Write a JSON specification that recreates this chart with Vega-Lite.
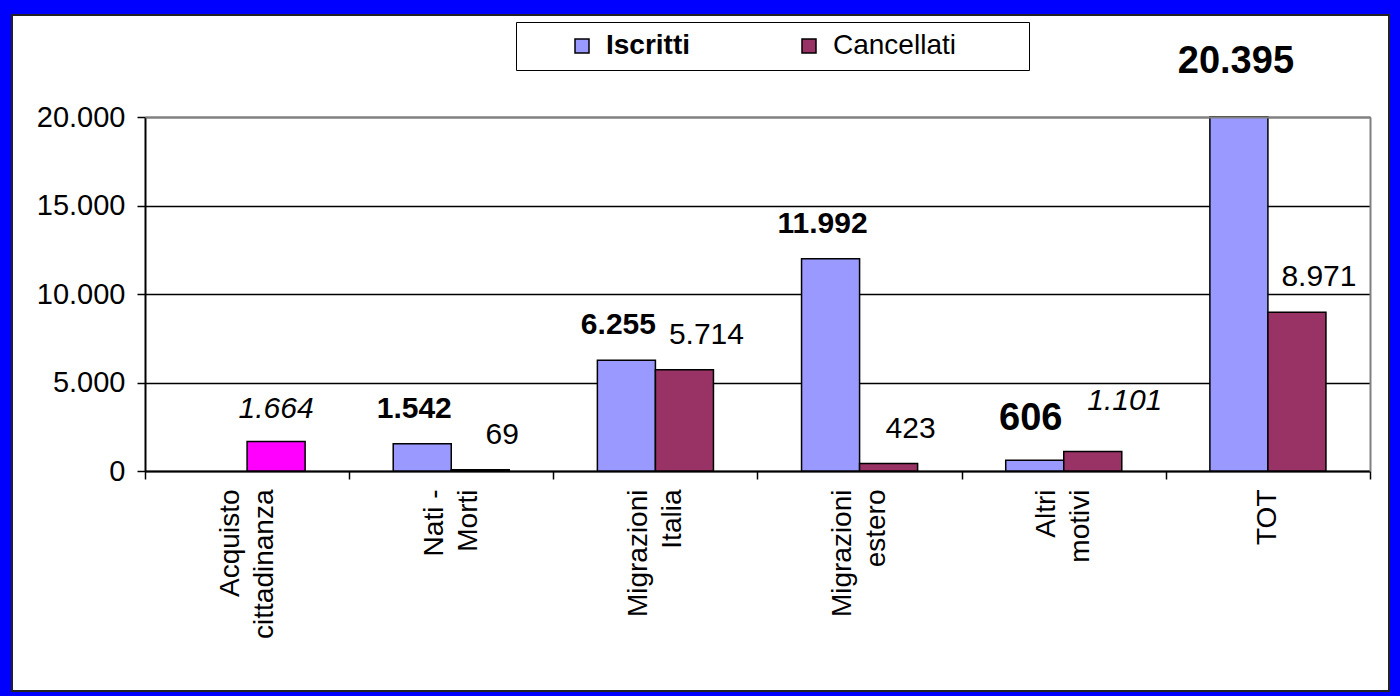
{
  "$schema": "https://vega.github.io/schema/vega-lite/v6.json",
  "width": 1377,
  "height": 676,
  "autosize": {"type": "none"},
  "padding": {"left": 12, "top": 15, "right": 11, "bottom": 5},
  "background": "#0000FF",
  "config": {
    "view": {"fill": "white", "stroke": "#222222", "strokeWidth": 2},
    "font": "Liberation Sans",
    "locale": {"number": {"decimal": ",", "thousands": ".", "grouping": [3], "currency": ["", " €"]}}
  },
  "data": {"values": [
    {"categoria": "Acquisto cittadinanza", "serie": "Cancellati", "valore": 1664},
    {"categoria": "Nati - Morti", "serie": "Iscritti", "valore": 1542},
    {"categoria": "Nati - Morti", "serie": "Cancellati", "valore": 69},
    {"categoria": "Migrazioni Italia", "serie": "Iscritti", "valore": 6255},
    {"categoria": "Migrazioni Italia", "serie": "Cancellati", "valore": 5714},
    {"categoria": "Migrazioni estero", "serie": "Iscritti", "valore": 11992},
    {"categoria": "Migrazioni estero", "serie": "Cancellati", "valore": 423},
    {"categoria": "Altri motivi", "serie": "Iscritti", "valore": 606},
    {"categoria": "Altri motivi", "serie": "Cancellati", "valore": 1101},
    {"categoria": "TOT", "serie": "Iscritti", "valore": 20395},
    {"categoria": "TOT", "serie": "Cancellati", "valore": 8971}
  ]},
  "resolve": {"axis": {"x": "independent", "y": "independent"}},
  "layer": [
    {
      "mark": {"type": "bar", "stroke": "black", "strokeWidth": 1.5},
      "encoding": {
        "x": {
          "field": "categoria", "type": "nominal",
          "sort": ["Acquisto cittadinanza", "Nati - Morti", "Migrazioni Italia", "Migrazioni estero", "Altri motivi", "TOT"],
          "scale": {"range": [133, 1358], "paddingInner": 0, "paddingOuter": 0},
          "axis": {
            "orient": "bottom", "offset": -220, "title": null, "grid": false,
            "domainColor": "black", "domainWidth": 2,
            "tickColor": "black", "tickWidth": 1.5, "tickSize": 8, "tickBand": "extent",
            "labelAngle": -90, "labelAlign": "right", "labelBaseline": "middle",
            "labelFont": "Liberation Sans", "labelFontSize": 28, "labelColor": "black",
            "labelPadding": 10, "labelLineHeight": 34, "labelLimit": 400,
            "labelOffset": {"expr": "datum.value === 'TOT' ? 0 : -17"},
            "labelExpr": "datum.value == null ? '' : (datum.value === 'Nati - Morti' ? ['Nati -', 'Morti'] : split(datum.value, ' '))"
          }
        },
        "xOffset": {
          "field": "serie", "type": "nominal", "sort": ["Iscritti", "Cancellati"],
          "scale": {"domain": ["Iscritti", "Cancellati"], "paddingOuter": 0.759, "paddingInner": 0}
        },
        "y": {
          "field": "valore", "type": "quantitative",
          "scale": {"domain": [0, 20000], "range": [456, 102], "nice": false, "clamp": true},
          "axis": {
            "orient": "left", "offset": -133, "title": null,
            "values": [0, 5000, 10000, 15000, 20000], "format": ",d",
            "grid": true, "gridColor": "black", "gridWidth": 1.5,
            "domainColor": "black", "domainWidth": 2,
            "tickColor": "black", "tickWidth": 1.5, "tickSize": 8,
            "labelFont": "Liberation Sans", "labelFontSize": 29, "labelColor": "black", "labelPadding": 12
          }
        },
        "color": {
          "condition": {"test": "datum.categoria === 'Acquisto cittadinanza'", "value": "#FF00FF"},
          "field": "serie", "type": "nominal", "sort": ["Iscritti", "Cancellati"],
          "scale": {"domain": ["Iscritti", "Cancellati"], "range": ["#9999FF", "#993366"]},
          "legend": {
            "orient": "none", "legendX": 504, "legendY": 7, "direction": "horizontal",
            "title": "\u2800\u2800", "titleOrient": "left", "titleFontSize": 28, "titlePadding": 0, "titleColor": "white",
            "fillColor": "white", "strokeColor": "black", "padding": 10,
            "symbolType": "square", "symbolSize": 196, "symbolStrokeColor": "black", "symbolStrokeWidth": 1.5,
            "labelFont": "Liberation Sans", "labelFontSize": 28, "labelColor": "black", "labelOffset": 10,
            "columnPadding": 104, "labelLimit": 500,
            "labelFontWeight": {"expr": "datum.label === 'Iscritti' ? 'bold' : 'normal'"},
            "labelExpr": "datum.label === 'Cancellati' ? 'Cancellati\u2800\u2800\u2800' : datum.label"
          }
        }
      }
    },
    {
      "transform": [{"filter": "datum.serie === 'Iscritti' && (datum.categoria === 'Nati - Morti' || datum.categoria === 'Migrazioni Italia' || datum.categoria === 'Migrazioni estero')"}],
      "mark": {"type": "text", "font": "Liberation Sans", "fontSize": 30, "fontWeight": "bold", "align": "center", "baseline": "middle", "dx": -8, "dy": -35, "color": "black"},
      "encoding": {
        "x": {"field": "categoria", "type": "nominal", "sort": ["Acquisto cittadinanza", "Nati - Morti", "Migrazioni Italia", "Migrazioni estero", "Altri motivi", "TOT"],
          "axis": {"orient": "top", "offset": -102, "title": null, "labels": false, "ticks": false, "grid": false, "domainColor": "#808080", "domainWidth": 2, "zindex": 1}},
        "xOffset": {"field": "serie", "type": "nominal", "sort": ["Iscritti", "Cancellati"]},
        "y": {"field": "valore", "type": "quantitative",
          "axis": {"orient": "right", "offset": -19, "title": null, "labels": false, "ticks": false, "grid": false, "domainColor": "#808080", "domainWidth": 2, "zindex": 1}},
        "text": {"field": "valore", "type": "quantitative", "format": ",d"}
      }
    },
    {
      "transform": [{"filter": "datum.serie === 'Iscritti' && datum.categoria === 'Altri motivi'"}],
      "mark": {"type": "text", "font": "Liberation Sans", "fontSize": 38, "fontWeight": "bold", "align": "center", "baseline": "middle", "dx": -4, "dy": -41, "color": "black"},
      "encoding": {
        "x": {"field": "categoria", "type": "nominal", "sort": ["Acquisto cittadinanza", "Nati - Morti", "Migrazioni Italia", "Migrazioni estero", "Altri motivi", "TOT"], "axis": null},
        "xOffset": {"field": "serie", "type": "nominal", "sort": ["Iscritti", "Cancellati"]},
        "y": {"field": "valore", "type": "quantitative", "axis": null},
        "text": {"field": "valore", "type": "quantitative", "format": ",d"}
      }
    },
    {
      "transform": [{"filter": "datum.serie === 'Iscritti' && datum.categoria === 'TOT'"}],
      "mark": {"type": "text", "font": "Liberation Sans", "fontSize": 38, "fontWeight": "bold", "align": "center", "baseline": "middle", "dx": -3, "dy": -55, "color": "black"},
      "encoding": {
        "x": {"field": "categoria", "type": "nominal", "sort": ["Acquisto cittadinanza", "Nati - Morti", "Migrazioni Italia", "Migrazioni estero", "Altri motivi", "TOT"], "axis": null},
        "xOffset": {"field": "serie", "type": "nominal", "sort": ["Iscritti", "Cancellati"]},
        "y": {"field": "valore", "type": "quantitative", "axis": null},
        "text": {"field": "valore", "type": "quantitative", "format": ",d"}
      }
    },
    {
      "transform": [{"filter": "datum.serie === 'Cancellati' && datum.categoria === 'Acquisto cittadinanza'"}],
      "mark": {"type": "text", "font": "Liberation Sans", "fontSize": 30, "fontStyle": "italic", "align": "center", "baseline": "middle", "dx": 0, "dy": -33, "color": "black"},
      "encoding": {
        "x": {"field": "categoria", "type": "nominal", "sort": ["Acquisto cittadinanza", "Nati - Morti", "Migrazioni Italia", "Migrazioni estero", "Altri motivi", "TOT"], "axis": null},
        "xOffset": {"field": "serie", "type": "nominal", "sort": ["Iscritti", "Cancellati"]},
        "y": {"field": "valore", "type": "quantitative", "axis": null},
        "text": {"field": "valore", "type": "quantitative", "format": ",d"}
      }
    },
    {
      "transform": [{"filter": "datum.serie === 'Cancellati' && datum.categoria === 'Altri motivi'"}],
      "mark": {"type": "text", "font": "Liberation Sans", "fontSize": 30, "fontStyle": "italic", "align": "center", "baseline": "middle", "dx": 32, "dy": -51, "color": "black"},
      "encoding": {
        "x": {"field": "categoria", "type": "nominal", "sort": ["Acquisto cittadinanza", "Nati - Morti", "Migrazioni Italia", "Migrazioni estero", "Altri motivi", "TOT"], "axis": null},
        "xOffset": {"field": "serie", "type": "nominal", "sort": ["Iscritti", "Cancellati"]},
        "y": {"field": "valore", "type": "quantitative", "axis": null},
        "text": {"field": "valore", "type": "quantitative", "format": ",d"}
      }
    },
    {
      "transform": [{"filter": "datum.serie === 'Cancellati' && datum.categoria !== 'Altri motivi' && datum.categoria !== 'Acquisto cittadinanza'"}],
      "mark": {"type": "text", "font": "Liberation Sans", "fontSize": 30, "align": "center", "baseline": "middle", "dx": 22, "dy": -35, "color": "black"},
      "encoding": {
        "x": {"field": "categoria", "type": "nominal", "sort": ["Acquisto cittadinanza", "Nati - Morti", "Migrazioni Italia", "Migrazioni estero", "Altri motivi", "TOT"], "axis": null},
        "xOffset": {"field": "serie", "type": "nominal", "sort": ["Iscritti", "Cancellati"]},
        "y": {"field": "valore", "type": "quantitative", "axis": null},
        "text": {"field": "valore", "type": "quantitative", "format": ",d"}
      }
    }
  ]
}
